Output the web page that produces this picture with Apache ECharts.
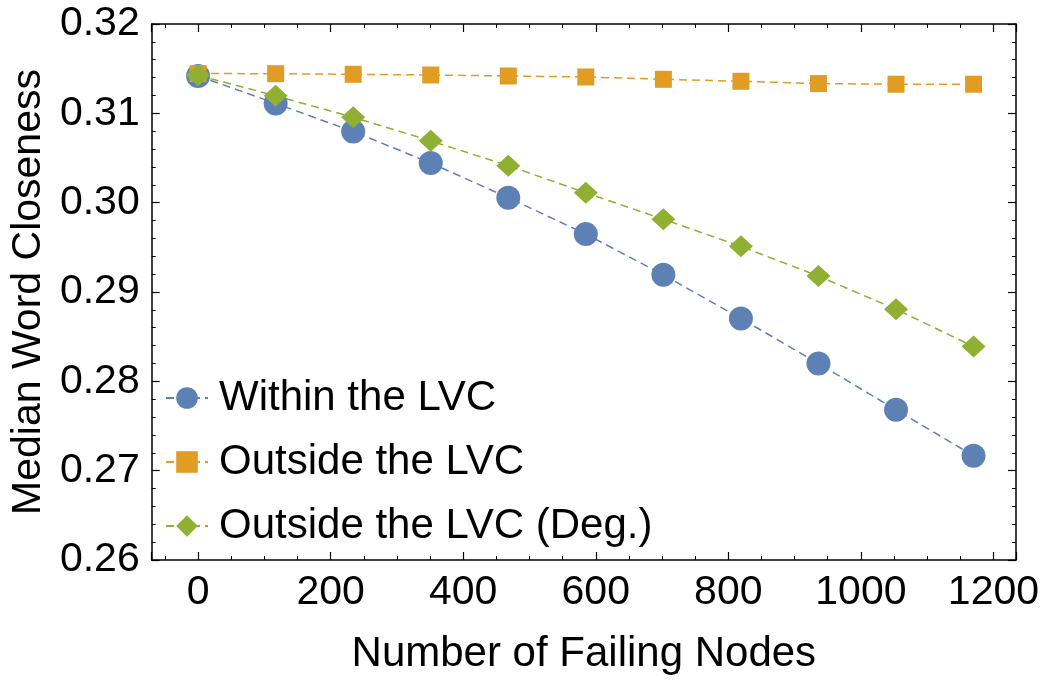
<!DOCTYPE html>
<html>
<head>
<meta charset="utf-8">
<script src="https://cdn.jsdelivr.net/npm/echarts@6/dist/echarts.min.js"></script>
<style>
  html, body { margin: 0; padding: 0; background: #fff; }
  #chart { width: 1042px; height: 684px; }
</style>
</head>
<body>
<div id="chart"></div>
<script>
// failing nodes (x) and median closeness per series
var failingNodes = [0, 117, 234, 351, 468, 585, 702, 819, 936, 1053, 1170];
var withinLVC = [0.31418, 0.31111, 0.30796, 0.30444, 0.30056, 0.29648, 0.29192, 0.28703, 0.28200, 0.27681, 0.27167];
var outsideLVC = [0.31445, 0.31444, 0.31437, 0.31429, 0.31418, 0.31407, 0.31381, 0.31359, 0.31333, 0.31326, 0.31326];
var outsideDeg = [0.31426, 0.31196, 0.30956, 0.30692, 0.30414, 0.30111, 0.29814, 0.29511, 0.29178, 0.28807, 0.28389];
var seriesNames = ['Within the LVC', 'Outside the LVC', 'Outside the LVC (Deg.)'];

function pairs(ys) {
  return failingNodes.map(function (x, i) { return [x, ys[i]]; });
}

var FONT = 'Liberation Sans';
var chart = echarts.init(document.getElementById('chart'));

var frameLine = { show: true, onZero: false, lineStyle: { color: '#000', width: 1.5 } };
var majorTick = { show: true, inside: true, length: 8, lineStyle: { color: '#000', width: 1.2 } };

function minor(n) {
  return { show: true, splitNumber: n, length: 4, lineStyle: { color: '#000', width: 1 } };
}

chart.setOption({
  animation: false,
  backgroundColor: '#fff',
  textStyle: { fontFamily: FONT },
  grid: { left: 150, right: 25, top: 24, bottom: 124 },
  legend: {
    orient: 'vertical',
    left: 160,
    top: 372,
    itemWidth: 42,
    itemHeight: 27,
    itemGap: 22,
    data: seriesNames,
    textStyle: { fontFamily: FONT, fontSize: 42, color: '#000', padding: [0, 0, 0, 6] }
  },
  xAxis: [
    {
      type: 'value', position: 'bottom', min: -70, max: 1234, splitNumber: 6,
      name: 'Number of Failing Nodes', nameLocation: 'middle', nameGap: 73,
      nameTextStyle: { fontFamily: FONT, fontSize: 42, color: '#000' },
      axisLine: frameLine, axisTick: majorTick, minorTick: minor(4),
      splitLine: { show: false },
      axisLabel: { fontFamily: FONT, fontSize: 41, color: '#000', margin: 12,
        showMinLabel: false, showMaxLabel: false,
        formatter: function (v) { return String(v); } }
    },
    {
      type: 'value', position: 'top', min: -70, max: 1234, splitNumber: 6,
      axisLine: frameLine, axisTick: majorTick, minorTick: minor(4),
      splitLine: { show: false }, axisLabel: { show: false }
    }
  ],
  yAxis: [
    {
      type: 'value', position: 'left', min: 0.26, max: 0.32, interval: 0.01,
      name: 'Median Word Closeness', nameLocation: 'middle', nameGap: 102,
      nameTextStyle: { fontFamily: FONT, fontSize: 41, color: '#000' },
      axisLine: frameLine, axisTick: majorTick, minorTick: minor(5),
      splitLine: { show: false },
      axisLabel: { fontFamily: FONT, fontSize: 41, color: '#000', margin: 12,
        formatter: function (v) { return v.toFixed(2); } }
    },
    {
      type: 'value', position: 'right', min: 0.26, max: 0.32, interval: 0.01,
      axisLine: frameLine, axisTick: majorTick, minorTick: minor(5),
      splitLine: { show: false }, axisLabel: { show: false }
    }
  ],
  series: [
    {
      name: seriesNames[0], type: 'line', data: pairs(withinLVC),
      symbol: 'circle', symbolSize: 24,
      itemStyle: { color: '#5E81B5' },
      lineStyle: { color: '#5E81B5', width: 1.5, type: [8, 5] }
    },
    {
      name: seriesNames[1], type: 'line', data: pairs(outsideLVC),
      symbol: 'rect', symbolSize: 17,
      itemStyle: { color: '#E19C24' },
      lineStyle: { color: '#E19C24', width: 1.5, type: [8, 5] }
    },
    {
      name: seriesNames[2], type: 'line', data: pairs(outsideDeg),
      symbol: 'diamond', symbolSize: [24, 22],
      itemStyle: { color: '#8FB032' },
      lineStyle: { color: '#8FB032', width: 1.5, type: [8, 5] }
    }
  ]
});
</script>
</body>
</html>
